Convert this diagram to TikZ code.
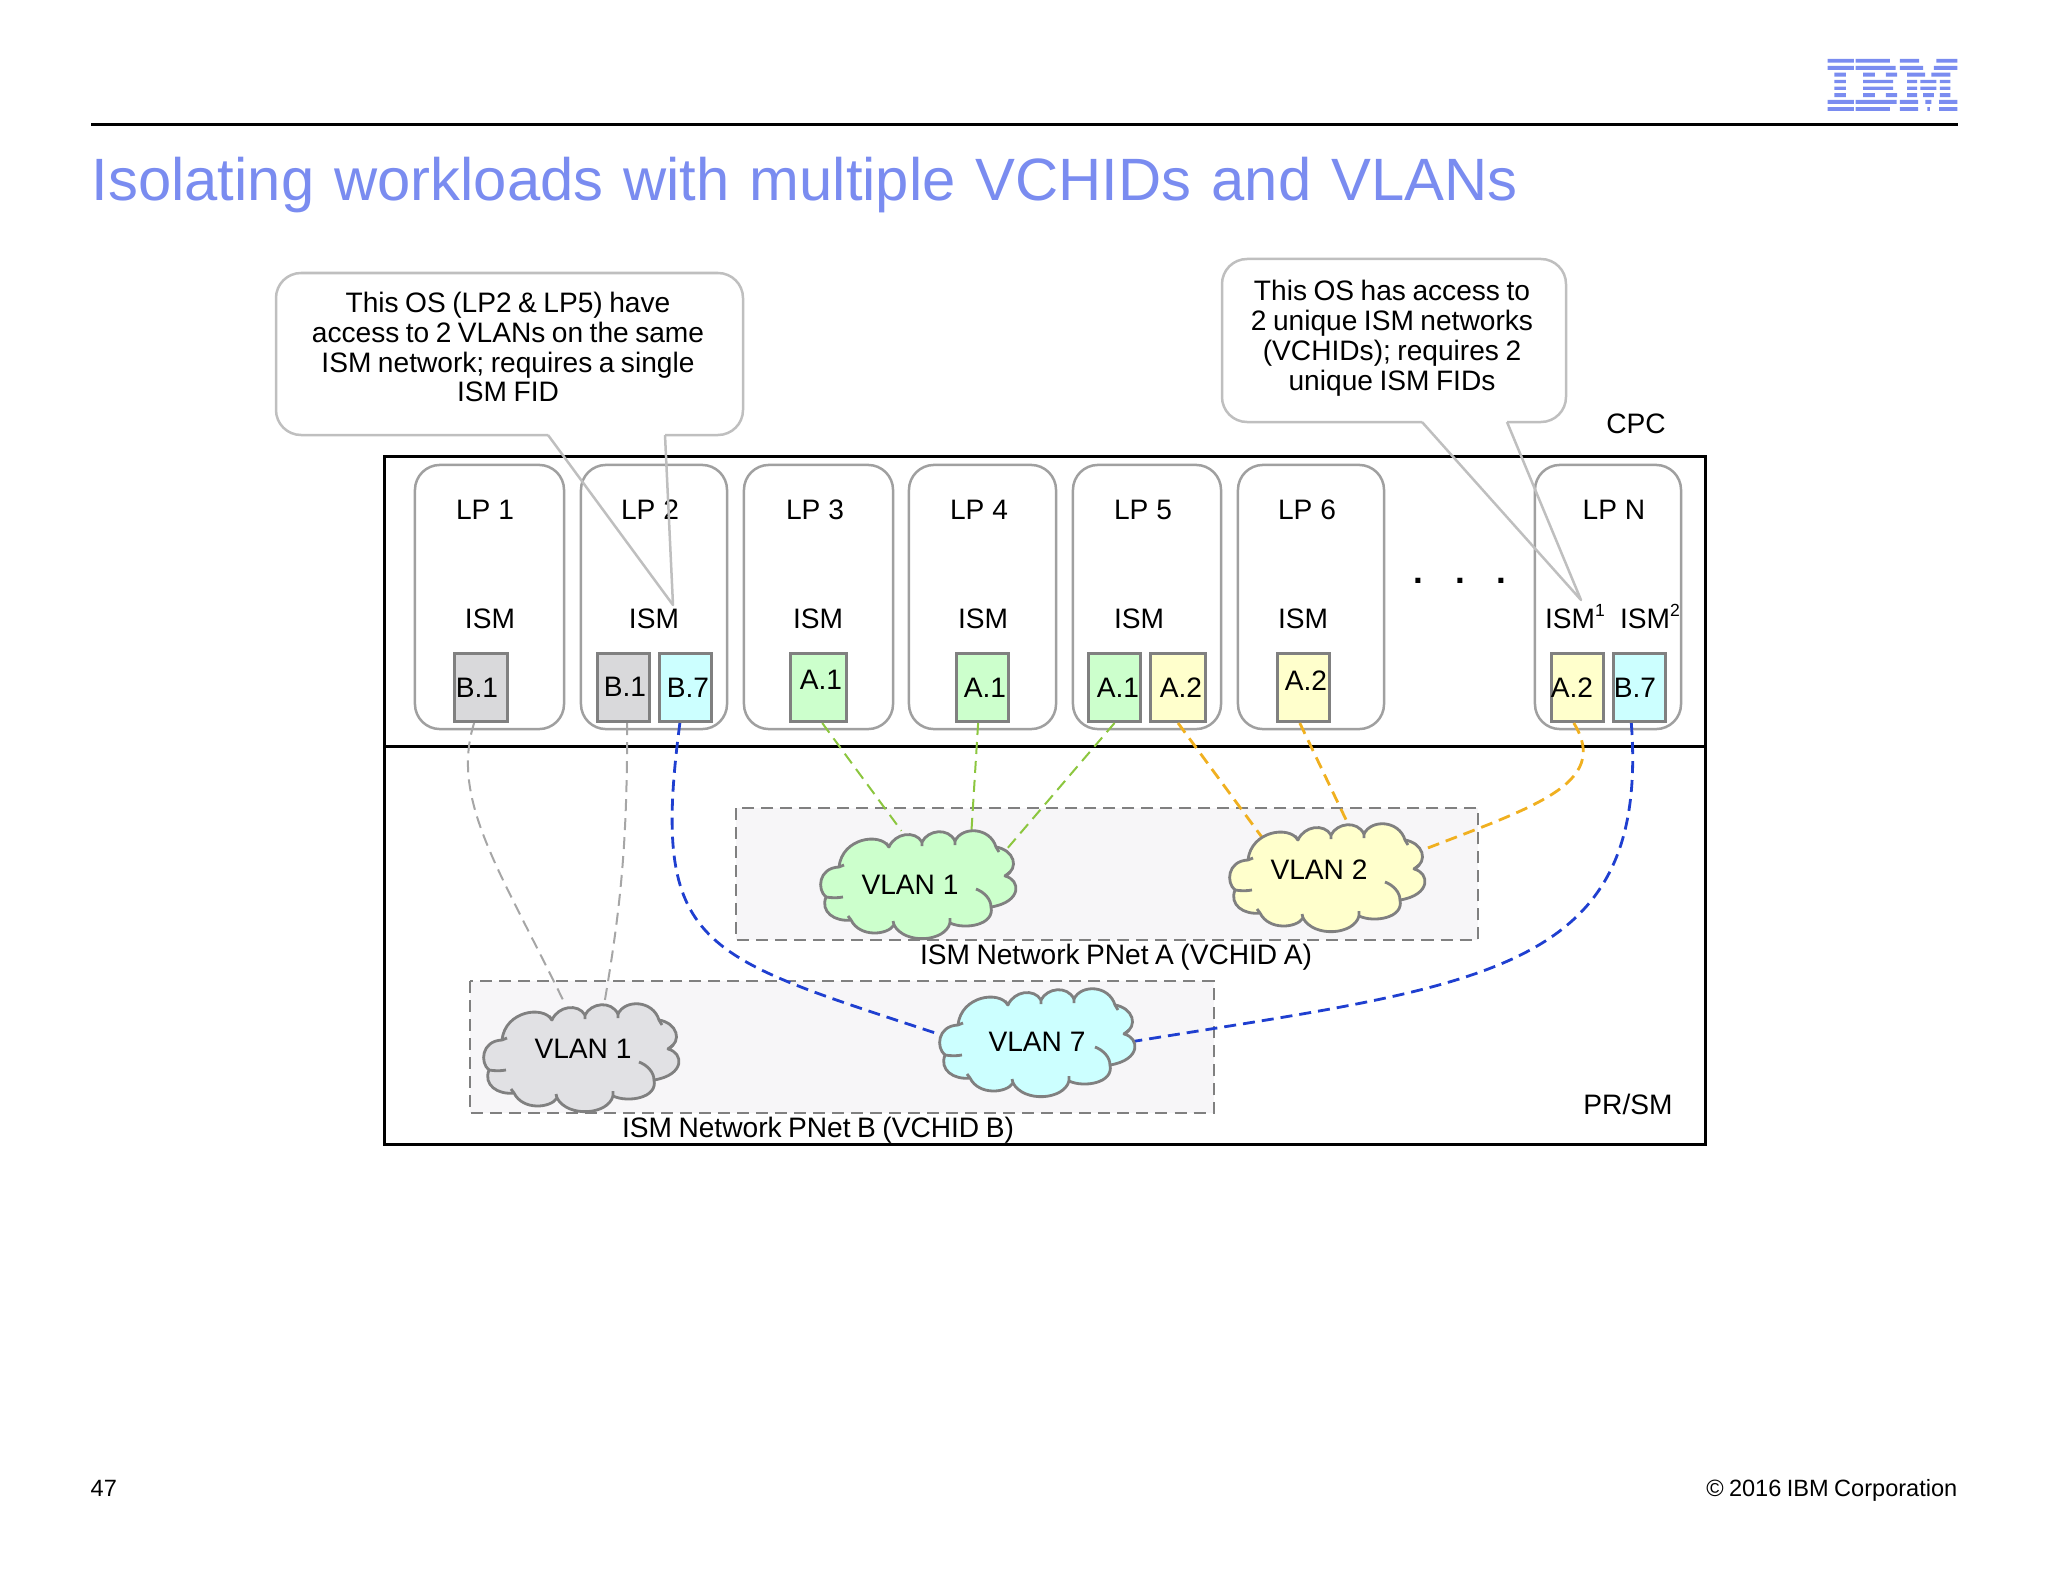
\documentclass[tikz,border=0pt]{standalone}
\usepackage{fontspec}
\setmainfont{Liberation Sans}
\usetikzlibrary{shapes.geometric}
\definecolor{ibmblue}{RGB}{122,140,240}
\definecolor{calloutline}{RGB}{191,191,191}
\definecolor{lpline}{RGB}{160,160,160}
\definecolor{boxline}{RGB}{128,128,128}
\definecolor{netfill}{RGB}{247,246,248}
\definecolor{fidgray}{RGB}{217,217,219}
\definecolor{cloudgrayfill}{RGB}{225,225,228}
\definecolor{fidcyan}{RGB}{204,255,255}
\definecolor{fidgreen}{RGB}{204,255,204}
\definecolor{fidyellow}{RGB}{255,255,204}
\definecolor{linkgray}{RGB}{166,166,166}
\definecolor{linkgreen}{RGB}{140,198,63}
\definecolor{linkorange}{RGB}{240,176,32}
\definecolor{linkblue}{RGB}{31,63,208}
\newcommand{\tightwords}{\spaceskip=0.23em\relax}
\newcommand{\widewords}{\spaceskip=0.335em\relax}

\begin{document}
\begin{tikzpicture}[x=0.01cm, y=-0.01cm]
        \tikzstyle{frame} = [draw=black, line width=0.03cm];
        \tikzstyle{lpbox} = [rectangle, draw=lpline, line width=0.025cm, rounded corners=0.25cm, minimum height=2.64cm, inner sep=0pt];
        \tikzstyle{fidbox} = [rectangle, draw=boxline, line width=0.03cm, minimum width=0.52cm, minimum height=0.68cm, inner sep=0pt];
        \tikzstyle{netbox} = [draw=boxline, fill=netfill, line width=0.025cm, dash pattern=on 0.12cm off 0.07cm];
        \tikzstyle{callout} = [draw=calloutline, line width=0.025cm];
        \tikzstyle{label} = [inner sep=0pt, yshift=-0.01cm, font=\fontsize{8pt}{8.5pt}\selectfont];
        \tikzstyle{narrowlabel} = [label, align=center, font=\fontsize{8pt}{8.5pt}\selectfont\tightwords];
        \tikzstyle{edge} = [ellipse, minimum height=1.1cm, inner sep=0pt, outer sep=0pt];
        \tikzstyle{greylink} = [draw=linkgray, line width=0.02cm, dash pattern=on 0.12cm off 0.07cm];
        \tikzstyle{greenlink} = [draw=linkgreen, line width=0.02cm, dash pattern=on 0.12cm off 0.07cm];
        \tikzstyle{orangelink} = [draw=linkorange, line width=0.028cm, dash pattern=on 0.12cm off 0.07cm];
        \tikzstyle{bluelink} = [draw=linkblue, line width=0.028cm, dash pattern=on 0.12cm off 0.07cm];
        \tikzset{
            pics/vlancloud/.style={code={
                \draw[draw=boxline, line width=0.028cm, fill=#1, line join=round]
                    (19,37) .. controls (22,8) and (60,2) .. (69,17)
                    .. controls (75,3) and (95,0) .. (102,12)
                    .. controls (108,0) and (128,-3) .. (135,11)
                    .. controls (142,-4) and (170,-3) .. (176,17)
                    .. controls (194,20) and (200,38) .. (185,46)
                    .. controls (201,50) and (202,72) .. (171,77)
                    .. controls (175,95) and (145,100) .. (130,93)
                    .. controls (125,112) and (85,115) .. (74,95)
                    .. controls (68,105) and (40,108) .. (31,90)
                    .. controls (15,92) and (0,82) .. (6,67)
                    .. controls (-3,60) and (-2,38) .. (19,37) -- cycle;
                \draw[draw=boxline, line width=0.028cm]
                    (19,37) -- (24,35)
                    (6,67) .. controls (12,68) and (18,68) .. (23,67)
                    (31,90) -- (28,86)
                    (74,95) -- (73,91)
                    (130,93) -- (130,88)
                    (171,77) .. controls (171,69) and (164,62) .. (156,59)
                    (185,46) -- (190,42)
                    (176,17) -- (179,22)
                    (69,17) -- (66,13)
                    (102,12) -- (102,16)
                    (135,11) -- (135,15);
            }}
        }

        % logo and header
        \fill[ibmblue, shift={(1780,30)}, x=0.00333cm, y=-0.00333cm]
            (143,87) rectangle (222,98) (227,87) rectangle (330,98) (360,87) rectangle (418,98) (470,87) rectangle (533,98)
            (143,108) rectangle (222,120) (227,108) rectangle (347,120) (360,108) rectangle (430,120) (462,108) rectangle (533,120)
            (163,128) rectangle (198,140) (250,128) rectangle (285,140) (318,128) rectangle (352,140) (382,128) rectangle (436,140) (455,128) rectangle (512,140)
            (163,150) rectangle (198,160) (250,150) rectangle (340,160) (382,150) rectangle (412,160) (422,150) rectangle (470,160) (480,150) rectangle (512,160)
            (163,170) rectangle (198,180) (250,170) rectangle (340,180) (382,170) rectangle (412,180) (422,170) rectangle (470,180) (480,170) rectangle (512,180)
            (163,190) rectangle (198,202) (250,190) rectangle (285,202) (318,190) rectangle (352,202) (382,190) rectangle (412,202) (430,190) rectangle (462,202) (480,190) rectangle (512,202)
            (143,210) rectangle (222,222) (227,210) rectangle (350,222) (360,210) rectangle (415,222) (437,210) rectangle (455,222) (478,210) rectangle (533,222)
            (143,232) rectangle (222,243) (227,232) rectangle (330,243) (360,232) rectangle (415,243) (443,232) rectangle (450,243) (478,232) rectangle (533,243);
        \path[use as bounding box] (0,0) rectangle (2048,1582);
        \draw[draw=black, line width=0.03cm] (91,125) -- (1958,125);
        \node(title) [anchor=base west, inner sep=0pt, text=ibmblue, font=\fontsize{17pt}{20pt}\selectfont\widewords] at (91,201) {Isolating workloads with multiple VCHIDs and VLANs};

        % outer frames
        \draw[frame] (384,456) rectangle (1705,1144);
        \draw[frame] (384,746) -- (1705,746);
        \node(cpclabel) [label] at (1636,423) {CPC};
        \node(prsmlabel) [label] at (1628,1103) {PR/SM};

        % partitions
        \node(lpone) [lpbox, minimum width=1.49cm] at (489.5,597) {};
        \node(lptwo) [lpbox, minimum width=1.46cm] at (654,597) {};
        \node(lpthree) [lpbox, minimum width=1.49cm] at (818.5,597) {};
        \node(lpfour) [lpbox, minimum width=1.47cm] at (982.5,597) {};
        \node(lpfive) [lpbox, minimum width=1.48cm] at (1147,597) {};
        \node(lpsix) [lpbox, minimum width=1.46cm] at (1311,597) {};
        \node(lpn) [lpbox, minimum width=1.46cm] at (1608,597) {};
        \node(lponelabel) [label] at (485,509) {LP 1};
        \node(lptwolabel) [label] at (650,509) {LP 2};
        \node(lpthreelabel) [label] at (815,509) {LP 3};
        \node(lpfourlabel) [label] at (979,509) {LP 4};
        \node(lpfivelabel) [label] at (1143,509) {LP 5};
        \node(lpsixlabel) [label] at (1307,509) {LP 6};
        \node(lpnlabel) [label] at (1614,509) {LP N};
        \node(ismone) [label] at (490,618) {ISM};
        \node(ismtwo) [label] at (654,618) {ISM};
        \node(ismthree) [label] at (818,618) {ISM};
        \node(ismfour) [label] at (983,618) {ISM};
        \node(ismfive) [label] at (1139,618) {ISM};
        \node(ismsix) [label] at (1303,618) {ISM};
        \node(ismnone) [label, anchor=base] at (1575,627) {ISM\raisebox{0.42em}{\fontsize{5pt}{5pt}\selectfont 1}};
        \node(ismntwo) [label, anchor=base] at (1650,627) {ISM\raisebox{0.42em}{\fontsize{5pt}{5pt}\selectfont 2}};
        \node(lpdots) [inner sep=0pt, font=\fontsize{10pt}{10pt}\bfseries\selectfont] at (1460,581) {.\hspace{0.315cm}.\hspace{0.315cm}.};

        % networks
        \draw[netbox] (736,808) rectangle (1478,940);
        \draw[netbox] (470,981) rectangle (1214,1113);
        \node(neta) [narrowlabel] at (1116,956) {ISM Network PNet A (VCHID A)};
        \node(netb) [narrowlabel] at (818,1129) {ISM Network PNet B (VCHID B)};

        % fids
        \node(fidbone) [fidbox, fill=fidgray] at (481,687.5) {};
        \node(fidbtwo) [fidbox, fill=fidgray] at (623.5,687.5) {};
        \node(fidbseven) [fidbox, fill=fidcyan] at (685.5,687.5) {};
        \node(fidathree) [fidbox, fill=fidgreen, minimum width=0.55cm] at (818.5,687.5) {};
        \node(fidafour) [fidbox, fill=fidgreen] at (982.5,687.5) {};
        \node(fidafive) [fidbox, fill=fidgreen] at (1114.5,687.5) {};
        \node(fidatwofive) [fidbox, fill=fidyellow, minimum width=0.55cm] at (1178,687.5) {};
        \node(fidatwosix) [fidbox, fill=fidyellow] at (1303.5,687.5) {};
        \node(fidatwon) [fidbox, fill=fidyellow] at (1577.5,687.5) {};
        \node(fidbsevenn) [fidbox, fill=fidcyan] at (1639.5,687.5) {};
        \node(txtbone) [label] at (477,687) {B.1};
        \node(txtbtwo) [label] at (625,686) {B.1};
        \node(txtbseven) [label] at (688,687) {B.7};
        \node(txtathree) [label] at (821,679) {A.1};
        \node(txtafour) [label] at (985,687) {A.1};
        \node(txtafive) [label] at (1118,687) {A.1};
        \node(txtatwofive) [label] at (1181,687) {A.2};
        \node(txtatwosix) [label] at (1306,680) {A.2};
        \node(txtatwon) [label] at (1572,687) {A.2};
        \node(txtbsevenn) [label] at (1635,687) {B.7};

        % cloud outlines for the links to end on
        \node(cloudgreen) [edge, minimum width=1.98cm] at (919,885) {};
        \node(cloudyellow) [edge, minimum width=1.98cm] at (1327.5,878) {};
        \node(cloudgray) [edge, minimum width=1.98cm] at (582.5,1058) {};
        \node(cloudcyan) [edge, minimum width=1.95cm] at (1036.5,1043) {};

        % links
        \draw[greylink] (fidbone.-101) .. controls (450,800) and (500,870) .. (cloudgray.108);
        \draw[greylink] (fidbtwo.-84) .. controls (627,840) and (622,900) .. (cloudgray.68);
        \draw[bluelink] (fidbseven.-99) .. controls (650,950) and (700,955) .. (cloudcyan.175);
        \draw[bluelink] (fidbsevenn.-103) .. controls (1650,975) and (1480,985) .. (cloudcyan.1);
        \draw[greenlink] (fidathree.-84) -- (cloudgreen.108);
        \draw[greenlink] (fidafour.-97) -- (cloudgreen.42);
        \draw[greenlink] (fidafive.south) -- (cloudgreen.20);
        \draw[orangelink] (fidatwofive.-90) -- (cloudyellow.148);
        \draw[orangelink] (fidatwosix.-96) -- (cloudyellow.69);
        \draw[orangelink] (fidatwon.-96) .. controls (1612,785) and (1530,808) .. (cloudyellow.16);

        % clouds
        \pic at (820,830) {vlancloud=fidgreen};
        \pic at (1229,823) {vlancloud=fidyellow};
        \pic at (483,1003) {vlancloud=cloudgrayfill};
        \pic at (939,988) {vlancloud=fidcyan};
        \node(vlanone) [label] at (910,884) {VLAN 1};
        \node(vlantwo) [label] at (1319,869) {VLAN 2};
        \node(vlanoneb) [label] at (583,1048) {VLAN 1};
        \node(vlanseven) [label] at (1037,1041) {VLAN 7};

        % callouts
        \draw[callout, rounded corners=0.25cm] (665,435) -- (743,435) -- (743,273) -- (276,273) -- (276,435) -- (548,435);
        \draw[callout, line join=round] (548,435) -- (673,605) -- (665,435);
        \draw[callout, rounded corners=0.25cm] (1507,422) -- (1566,422) -- (1566,259) -- (1222,259) -- (1222,422) -- (1422,422);
        \draw[callout, line join=round] (1422,422) -- (1581,600) -- (1507,422);
        \node(callone) [narrowlabel] at (508,346) {This OS (LP2 \& LP5) have\\access to 2 VLANs on the same\\ISM network; requires a single\\ISM FID};
        \node(calltwo) [narrowlabel] at (1392,337) {This OS has access to\\2 unique ISM networks\\(VCHIDs); requires 2\\unique ISM FIDs};

        % footer
        \node(pagenum) [anchor=base west, inner sep=0pt, font=\fontsize{6.7pt}{8pt}\selectfont] at (90,1496) {47};
        \node(copyright) [anchor=base east, inner sep=0pt, font=\fontsize{6.7pt}{8pt}\selectfont\tightwords] at (1958,1496) {© 2016 IBM Corporation};
    \end{tikzpicture}
\end{document}
